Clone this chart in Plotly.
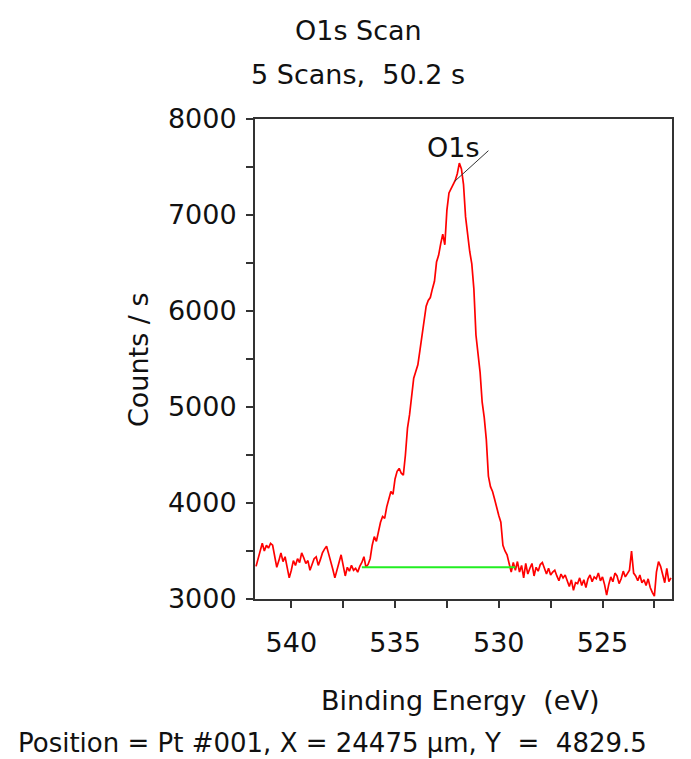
import plotly.graph_objects as go

# O1s spectrum, binding energy (eV) vs counts/s
binding_energy = [
    541.7, 541.6, 541.5, 541.4, 541.3, 541.2, 541.1, 541.0, 540.9, 540.8,
    540.7, 540.6, 540.5, 540.4, 540.3, 540.2, 540.1, 540.0, 539.9, 539.8,
    539.7, 539.6, 539.5, 539.4, 539.3, 539.2, 539.1, 539.0, 538.9, 538.8,
    538.7, 538.6, 538.5, 538.4, 538.3, 538.2, 538.1, 538.0, 537.9, 537.8,
    537.7, 537.6, 537.5, 537.4, 537.3, 537.2, 537.1, 537.0, 536.9, 536.8,
    536.7, 536.6, 536.5, 536.4, 536.3, 536.2, 536.1, 536.0, 535.9, 535.8,
    535.7, 535.6, 535.5, 535.4, 535.3, 535.2, 535.1, 535.0, 534.9, 534.8,
    534.7, 534.6, 534.5, 534.4, 534.3, 534.2, 534.1, 534.0, 533.9, 533.8,
    533.7, 533.6, 533.5, 533.4, 533.3, 533.2, 533.1, 533.0, 532.9, 532.8,
    532.7, 532.6, 532.5, 532.4, 532.3, 532.2, 532.1, 532.0, 531.9, 531.8,
    531.7, 531.6, 531.5, 531.4, 531.3, 531.2, 531.1, 531.0, 530.9, 530.8,
    530.7, 530.6, 530.5, 530.4, 530.3, 530.2, 530.1, 530.0, 529.9, 529.8,
    529.7, 529.6, 529.5, 529.4, 529.3, 529.2, 529.1, 529.0, 528.9, 528.8,
    528.7, 528.6, 528.5, 528.4, 528.3, 528.2, 528.1, 528.0, 527.9, 527.8,
    527.7, 527.6, 527.5, 527.4, 527.3, 527.2, 527.1, 527.0, 526.9, 526.8,
    526.7, 526.6, 526.5, 526.4, 526.3, 526.2, 526.1, 526.0, 525.9, 525.8,
    525.7, 525.6, 525.5, 525.4, 525.3, 525.2, 525.1, 525.0, 524.9, 524.8,
    524.7, 524.6, 524.5, 524.4, 524.3, 524.2, 524.1, 524.0, 523.9, 523.8,
    523.7, 523.6, 523.5, 523.4, 523.3, 523.2, 523.1, 523.0, 522.9, 522.8,
    522.7, 522.6, 522.5, 522.4, 522.3, 522.2, 522.1, 522.0, 521.9, 521.8,
    521.7,
]
counts = [
    3340, 3420, 3530, 3580, 3500, 3560, 3530, 3580, 3560, 3420,
    3330, 3400, 3480, 3390, 3440, 3330, 3220, 3300, 3400, 3350,
    3420, 3380, 3480, 3430, 3370, 3400, 3300, 3360, 3420, 3440,
    3350, 3410, 3480, 3520, 3550, 3470, 3400, 3310, 3220, 3300,
    3380, 3460, 3350, 3240, 3330, 3290, 3350, 3300, 3320, 3280,
    3340, 3380, 3440, 3330, 3360, 3420, 3560, 3650, 3600, 3720,
    3800, 3860, 3840, 3960, 4050, 4120, 4090, 4250, 4330, 4360,
    4310, 4290, 4500, 4780, 4920, 5100, 5300, 5370, 5440, 5590,
    5760, 5870, 6050, 6110, 6140, 6230, 6310, 6510, 6580, 6700,
    6800, 6690, 7050, 7230, 7270, 7320, 7360, 7430, 7540, 7480,
    7320, 6980, 6760, 6620, 6490, 6230, 5750, 5580, 5360, 5050,
    4890, 4660, 4280, 4170, 4120, 4040, 3940, 3870, 3800, 3560,
    3500, 3460, 3370, 3280, 3380, 3300, 3390, 3280, 3350, 3220,
    3370, 3260, 3320, 3370, 3240, 3330, 3290, 3360, 3380, 3310,
    3260, 3320, 3250, 3280, 3300, 3240, 3190, 3260, 3220, 3250,
    3180, 3130, 3200, 3090, 3170, 3160, 3220, 3140, 3200, 3120,
    3210, 3250, 3180, 3230, 3210, 3270, 3190, 3230, 3150, 3040,
    3150, 3230, 3180, 3270, 3240, 3160, 3210, 3290, 3230, 3270,
    3300, 3500, 3270, 3240, 3190, 3250, 3170, 3200, 3140, 3210,
    3120, 3070, 3030, 3280, 3390, 3340, 3240, 3170, 3320, 3180,
    3220,
]

# background (baseline) under the peak
baseline_be = [536.6, 529.2]
baseline_counts = [3330, 3330]

# peak label and its leader line
peak_label = "O1s"
leader_be = [532.13, 530.50]
leader_counts = [7350, 7670]

x_ticks = [540, 537.5, 535, 532.5, 530, 527.5, 525, 522.5]
x_ticktext = ["540", "", "535", "", "530", "", "525", ""]
y_ticks = [3000, 3500, 4000, 4500, 5000, 5500, 6000, 6500, 7000, 7500, 8000]
y_ticktext = ["3000", "", "4000", "", "5000", "", "6000", "", "7000", "", "8000"]

X_RANGE = [541.75, 521.65]
Y_RANGE = [3000, 8000]

# the original text is a wide sans, DejaVu matches its footprint best
FONT = "DejaVu Sans, Liberation Sans, Arial, sans-serif"
FS = 27
AXIS_COLOR = "#333333"
TEXT_COLOR = "#111111"

# plot area in pixels
W, H = 691, 759
L, R, T, B = 247, 27, 111, 168
PW, PH = W - L - R, H - T - B


def px_to_paper(px, py):
    return (px - L) / PW, (H - B - py) / PH


fig = go.Figure()

fig.add_trace(go.Scatter(
    x=binding_energy, y=counts, mode="lines",
    line=dict(color="#ff0000", width=1.7), showlegend=False,
))
fig.add_trace(go.Scatter(
    x=baseline_be, y=baseline_counts, mode="lines",
    line=dict(color="#22ee22", width=2), showlegend=False,
))
fig.add_trace(go.Scatter(
    x=leader_be, y=leader_counts, mode="lines",
    line=dict(color="#333333", width=1), showlegend=False,
))

axis_common = dict(
    showgrid=False, zeroline=False, showline=True, mirror=True,
    linecolor=AXIS_COLOR, linewidth=2,
    ticks="outside", ticklen=7, tickwidth=1.5, tickcolor=AXIS_COLOR,
    tickfont=dict(family=FONT, size=FS, color=TEXT_COLOR),
    tickmode="array",
)

fig.update_layout(
    width=W, height=H,
    margin=dict(l=L, r=R, t=T, b=B, autoexpand=False),
    paper_bgcolor="white", plot_bgcolor="white",
    xaxis=dict(range=X_RANGE, tickvals=x_ticks, ticktext=x_ticktext,
               ticklabelstandoff=12, **axis_common),
    yaxis=dict(range=Y_RANGE, tickvals=y_ticks, ticktext=y_ticktext,
               ticklabelstandoff=4, **axis_common),
    # overlay axes only to draw the inner half of each tick
    xaxis2=dict(overlaying="x", anchor="y", range=X_RANGE, tickmode="array",
                tickvals=x_ticks, showticklabels=False, ticks="inside",
                ticklen=5, tickwidth=1.5, tickcolor=AXIS_COLOR,
                showgrid=False, zeroline=False, showline=False),
    yaxis2=dict(overlaying="y", anchor="x", side="left", range=Y_RANGE,
                tickmode="array", tickvals=y_ticks, showticklabels=False,
                ticks="inside", ticklen=5, tickwidth=1.5, tickcolor=AXIS_COLOR,
                showgrid=False, zeroline=False, showline=False),
    showlegend=False,
)

texts = [
    ("O1s Scan", 350, 22, "center", 0, FS),
    ("5 Scans,  50.2 s", 350, 66, "center", 0, FS),
    ("Counts / s", 130, 352, "center", -90, FS),
    ("Binding Energy  (eV)", 452, 692, "center", 0, FS),
    ("Position = Pt #001, X = 24475 µm, Y  =  4829.5", 8, 735, "left", 0, 26),
]
for text, px, py, anchor, angle, size in texts:
    xp, yp = px_to_paper(px, py)
    fig.add_annotation(
        text=text, x=xp, y=yp, xref="paper", yref="paper",
        xanchor=anchor, yanchor="middle", textangle=angle, showarrow=False,
        font=dict(family=FONT, size=size, color=TEXT_COLOR),
    )

fig.add_annotation(
    text=peak_label, x=532.19, y=7708, xref="x", yref="y",
    xanchor="center", yanchor="middle", showarrow=False,
    font=dict(family=FONT, size=FS, color=TEXT_COLOR),
)

fig.write_html("out.html")
